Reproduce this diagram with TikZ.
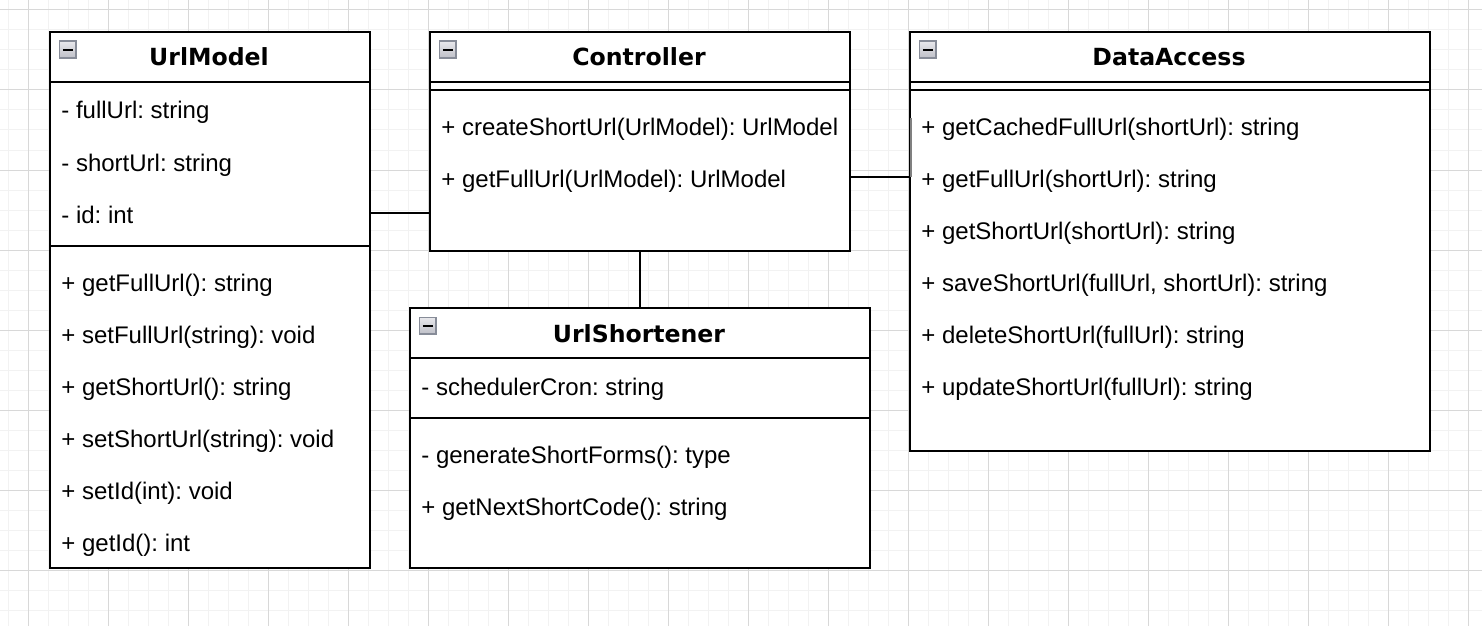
\documentclass[tikz,border=0pt]{standalone}
\usepackage{fontspec}
\setmainfont{Liberation Sans}
\newfontfamily\titlefont{DejaVu Sans}
\frenchspacing
\definecolor{gridminor}{HTML}{F2F2F2}
\definecolor{gridmajor}{HTML}{D8D8D8}
\definecolor{iconborder}{HTML}{878C98}
\definecolor{icontop}{HTML}{E8E8EC}
\definecolor{iconbot}{HTML}{BEBFC7}
\tikzset{
  box/.style={draw, line width=1pt, fill=white, anchor=north west, inner sep=0pt},
  sepline/.style={line width=1pt},
  member/.style={anchor=base west, inner sep=0pt, font=\fontsize{12}{14}\selectfont},
  ctitle/.style={anchor=base, inner sep=0pt, font=\titlefont\bfseries\fontsize{11.8}{14}\selectfont},
  icon/.style={draw=iconborder, line width=0.8pt, top color=icontop, bottom color=iconbot, anchor=north west, minimum width=8.4pt, minimum height=8.4pt, inner sep=0pt},
  conn/.style={line width=1pt}
}
\newcommand{\collapseicon}[3]{%
  \node[icon] (#1) at (#2,#3) {};
  \draw[line width=1.1pt] ([xshift=-2.4pt]#1.center) -- ([xshift=2.4pt]#1.center);
}
\begin{document}
\begin{tikzpicture}[x=0.5pt,y=-0.5pt]
\useasboundingbox (0,0) rectangle (1482,626);
\fill[white] (0,0) rectangle (1482,626);
% grid
\foreach \gx in {8,28,...,1480} {\draw[gridminor, line width=0.5pt] (\gx,0) -- (\gx,626);}
\foreach \gy in {10,30,...,620} {\draw[gridminor, line width=0.5pt] (0,\gy) -- (1482,\gy);}
\foreach \gx in {28,108,...,1480} {\draw[gridmajor, line width=0.5pt] (\gx,0) -- (\gx,626);}
\foreach \gy in {10,90,...,620} {\draw[gridmajor, line width=0.5pt] (0,\gy) -- (1482,\gy);}

% connector helper coordinates
\coordinate (c1) at (399,213);
\coordinate (c2) at (879,177);

% ---------- UrlModel ----------
\node[box, minimum width=160pt, minimum height=268pt] (um) at (49,31) {};
\draw[sepline] (49,82) -- (369,82);
\draw[sepline] (49,246) -- (369,246);
\collapseicon{umicon}{58.5}{40.5}
\node[ctitle] (umt) at (209,66) {UrlModel};
\node[member] (um1) at (61,119) {- fullUrl: string};
\node[member] (um2) at (61,171) {- shortUrl: string};
\node[member] (um3) at (61,223) {- id: int};
\node[member] (um4) at (61,291) {+ getFullUrl(): string};
\node[member] (um5) at (61,343) {+ setFullUrl(string): void};
\node[member] (um6) at (61,395) {+ getShortUrl(): string};
\node[member] (um7) at (61,447) {+ setShortUrl(string): void};
\node[member] (um8) at (61,499) {+ setId(int): void};
\node[member] (um9) at (61,551) {+ getId(): int};

% ---------- Controller ----------
\node[box, minimum width=210pt, minimum height=109.5pt] (ctrl) at (429,31) {};
\draw[sepline] (429,82) -- (849,82);
\draw[sepline] (429,90.5) -- (849,90.5);
\collapseicon{cicon}{438.5}{40.5}
\node[ctitle] (ct) at (639,66) {Controller};
\node[member] (c1m) at (441,135) {+ createShortUrl(UrlModel): UrlModel};
\node[member] (c2m) at (441,187) {+ getFullUrl(UrlModel): UrlModel};

% ---------- DataAccess ----------
\node[box, minimum width=260pt, minimum height=209.5pt] (da) at (909,31) {};
\draw[sepline] (909,82) -- (1429,82);
\draw[sepline] (909,90.5) -- (1429,90.5);
\collapseicon{dicon}{918.5}{40.5}
\node[ctitle] (dt) at (1169,66) {DataAccess};
\node[member] (d1) at (921,135) {+ getCachedFullUrl(shortUrl): string};
\node[member] (d2) at (921,187) {+ getFullUrl(shortUrl): string};
\node[member] (d3) at (921,239) {+ getShortUrl(shortUrl): string};
\node[member] (d4) at (921,291) {+ saveShortUrl(fullUrl, shortUrl): string};
\node[member] (d5) at (921,343) {+ deleteShortUrl(fullUrl): string};
\node[member] (d6) at (921,395) {+ updateShortUrl(fullUrl): string};

% ---------- UrlShortener ----------
\node[box, minimum width=230pt, minimum height=130pt] (us) at (409,307) {};
\draw[sepline] (409,358) -- (869,358);
\draw[sepline] (409,418) -- (869,418);
\collapseicon{usicon}{418.5}{316.5}
\node[ctitle] (ust) at (639,342) {UrlShortener};
\node[member] (us1) at (421,395) {- schedulerCron: string};
\node[member] (us2) at (421,463) {- generateShortForms(): type};
\node[member] (us3) at (421,515) {+ getNextShortCode(): string};

% ---------- connectors ----------
\draw[conn] (um.east |- c1) -- (ctrl.west |- c1);
\draw[conn] (ctrl.south) -- (us.north);
\draw[conn] (ctrl.east |- c2) -- (da.west |- c2);
\draw[gray, line width=0.6pt] ([xshift=1pt]da.west |- c2) -- ([xshift=1pt]da.west |- 0,118);
\end{tikzpicture}
\end{document}
